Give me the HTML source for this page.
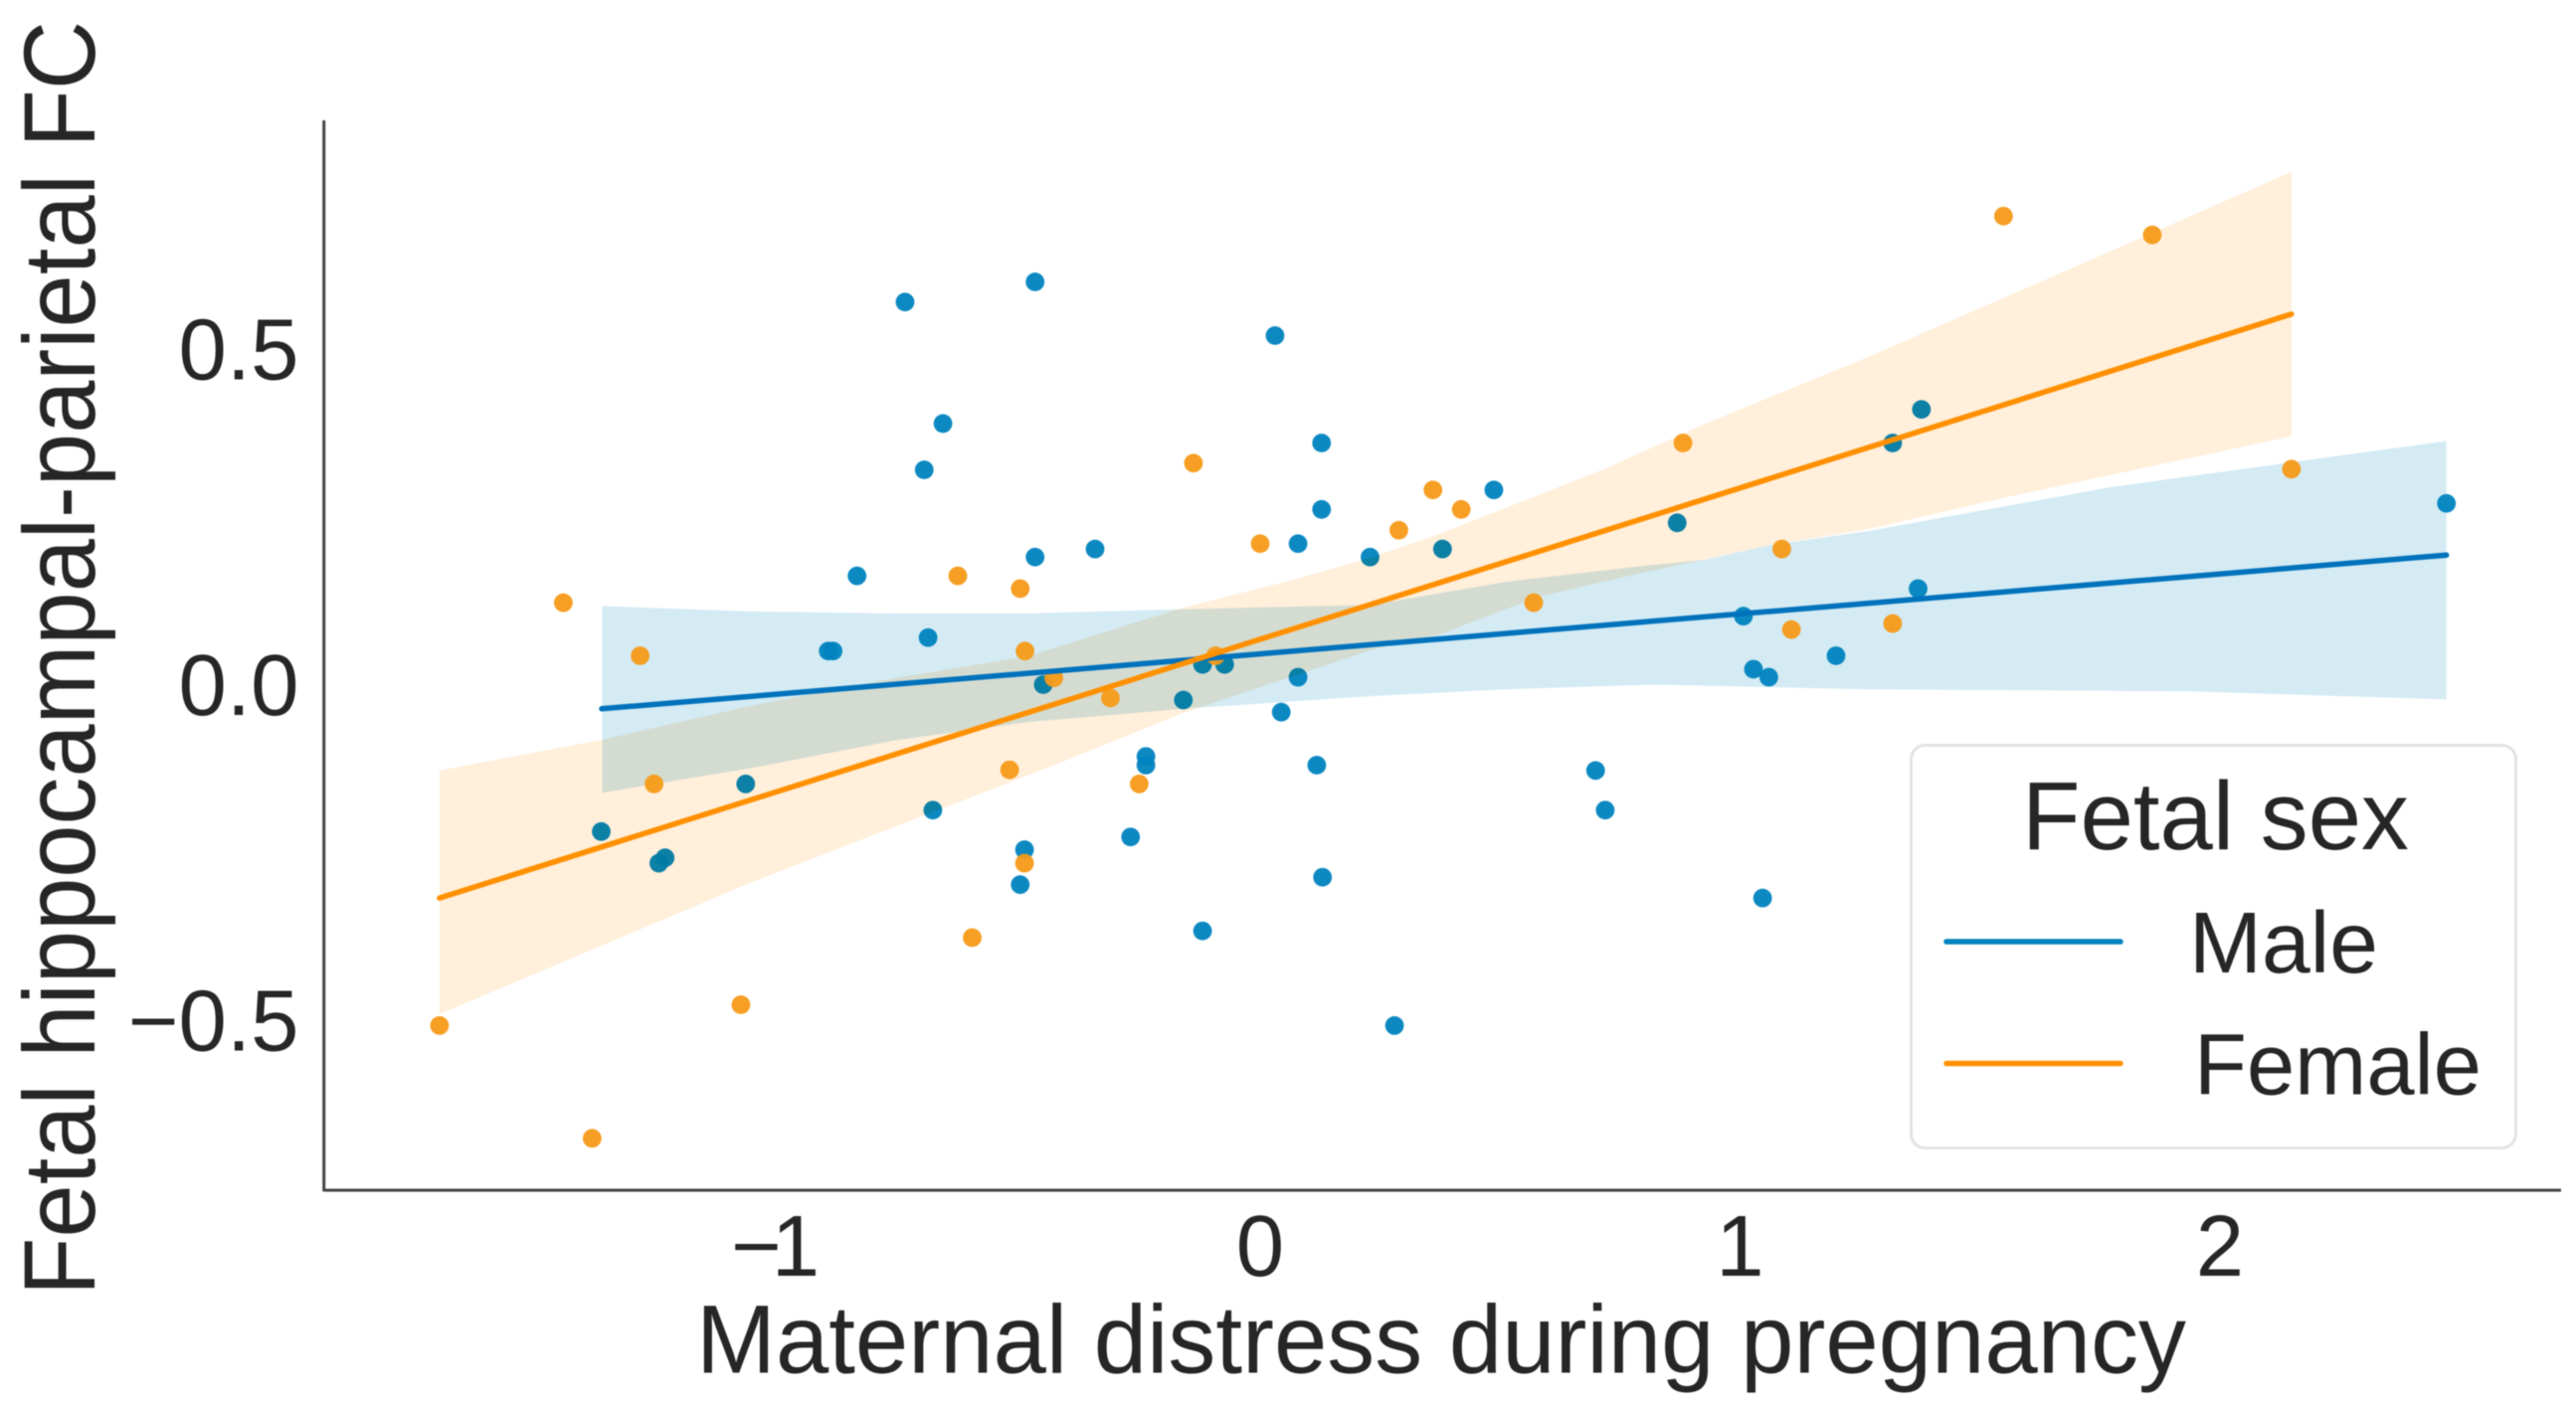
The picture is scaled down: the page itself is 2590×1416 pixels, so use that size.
<!DOCTYPE html>
<html lang="en">
<head>
<meta charset="utf-8">
<title>Fetal hippocampal-parietal FC vs maternal distress</title>
<style>
  html, body { margin: 0; padding: 0; background: #fff; }
  svg { display: block; filter: blur(0.6px); }
  text { font-family: "Liberation Sans", Arial, sans-serif; fill: #262626; }
</style>
</head>
<body>
<svg id="chart" xmlns="http://www.w3.org/2000/svg" width="2590" height="1416" viewBox="0 0 2590 1416">
  <rect x="0" y="0" width="2590" height="1416" fill="#ffffff"/>
  <g id="marks"></g>
  <line x1="325.7" y1="121" x2="325.7" y2="1198" stroke="#444444" stroke-width="3"/>
  <line x1="325" y1="1197" x2="2575" y2="1197" stroke="#444444" stroke-width="3"/>
  <g id="ticks"></g>
  <text x="700" y="1380.5" font-size="97" textLength="1498" lengthAdjust="spacingAndGlyphs">Maternal distress during pregnancy</text>
  <text transform="translate(95,1303) rotate(-90)" x="0" y="0" font-size="102" textLength="1282" lengthAdjust="spacingAndGlyphs">Fetal hippocampal-parietal FC</text>
  <g>
    <rect x="1921.5" y="749.5" width="608" height="405" rx="14" ry="14" fill="#ffffff" fill-opacity="0.9" stroke="#e3e3e3" stroke-width="3"/>
    <text x="2033" y="854" font-size="97" textLength="389" lengthAdjust="spacingAndGlyphs">Fetal sex</text>
    <line x1="1957" y1="947" x2="2132" y2="947" stroke="#0083BF" stroke-width="5.5" stroke-linecap="round"/>
    <text x="2201" y="978" font-size="87" textLength="190" lengthAdjust="spacingAndGlyphs">Male</text>
    <line x1="1957" y1="1069.5" x2="2132" y2="1069.5" stroke="#FF9000" stroke-width="5.5" stroke-linecap="round"/>
    <text x="2206" y="1100.5" font-size="87" textLength="289" lengthAdjust="spacingAndGlyphs">Female</text>
  </g>
</svg>
<script>
// ---- Data ----
const xTickValues = [-1, 0, 1, 2];
const xTickLabels = ["\u22121", "0", "1", "2"];
const yTickValues = [0.5, 0, -0.5];
const yTickLabels = ["0.5", "0.0", "\u22120.5"];

const maleX = [-0.469,-0.74,0.031,-0.661,-0.70,-0.344,-0.469,-0.84,-0.692,-0.90,-0.89,-0.452,-0.12,-0.074,-0.16,0.128,0.128,0.487,0.079,0.229,0.38,0.869,1.378,1.318,2.472,1.371,1.007,1.2,1.028,1.06,0.079,0.044,-1.072,-0.682,-1.373,-0.238,-0.238,-0.27,-0.491,-1.24,-1.253,-0.50,-0.12,0.118,0.699,0.719,0.13,1.047,0.28];
const maleY = [0.60,0.57,0.52,0.389,0.32,0.202,0.19,0.162,0.07,0.05,0.05,0.0,0.03,0.03,-0.023,0.36,0.261,0.29,0.21,0.19,0.202,0.241,0.41,0.36,0.27,0.143,0.102,0.043,0.023,0.011,0.011,-0.041,-0.148,-0.187,-0.219,-0.107,-0.12,-0.227,-0.246,-0.258,-0.266,-0.298,-0.367,-0.12,-0.128,-0.187,-0.287,-0.318,-0.508];

const femaleX = [1.549,1.859,2.149,0.881,0.36,0.419,0.289,1.087,0.57,1.107,1.318,-1.452,-1.292,-0.63,-0.50,-0.49,-0.139,0.0,-0.43,-0.312,-0.093,-0.522,-1.263,-0.252,-0.491,-0.60,-1.082,-1.71,-1.392];
const femaleY = [0.698,0.67,0.321,0.36,0.29,0.261,0.23,0.202,0.122,0.082,0.091,0.122,0.043,0.162,0.143,0.05,0.33,0.21,0.01,-0.02,0.043,-0.127,-0.148,-0.148,-0.266,-0.377,-0.477,-0.508,-0.676];

const maleLineX = [-1.372, 2.472];
const maleLineY = [-0.036, 0.193];
const femaleLineX = [-1.71, 2.149];
const femaleLineY = [-0.318, 0.552];

const maleUpperX = [-1.371,-1.065,-0.76,-0.485,-0.173,0.234,0.51,0.787,0.925,1.063,1.27,1.77,2.472];
const maleUpperY = [0.117,0.109,0.106,0.106,0.112,0.119,0.153,0.176,0.186,0.208,0.229,0.294,0.363];
const maleLowerX = [-1.371,-1.065,-0.76,-0.485,-0.16,0.234,0.51,0.82,1.27,1.94,2.472];
const maleLowerY = [-0.161,-0.125,-0.083,-0.056,-0.036,-0.017,-0.007,0.0,-0.007,-0.01,-0.022];

const femaleUpperX = [-1.71,-1.371,-1.065,-0.76,-0.485,-0.173,0.068,0.234,0.372,0.717,0.925,1.27,1.77,2.149];
const femaleUpperY = [-0.128,-0.082,-0.032,0.01,0.042,0.112,0.156,0.19,0.224,0.321,0.388,0.489,0.645,0.764];
const femaleLowerX = [-1.71,-1.065,-0.719,-0.429,-0.16,0.234,0.372,0.58,0.787,1.063,1.27,1.547,2.149];
const femaleLowerY = [-0.491,-0.296,-0.2,-0.12,-0.042,0.052,0.074,0.131,0.165,0.208,0.232,0.278,0.37];

// ---- Axis functions ----
function sx(v) { return 1267 + 482.5 * v; }
function sy(v) { return 688.5 - 675 * v; }

const NS = "http://www.w3.org/2000/svg";
const marks = document.getElementById("marks");
const ticks = document.getElementById("ticks");

function bandPath(ux, uy, lx, ly) {
  const pts = [];
  ux.forEach(function (x, i) { pts.push(sx(x).toFixed(1) + "," + sy(uy[i]).toFixed(1)); });
  for (let i = lx.length - 1; i >= 0; i--) { pts.push(sx(lx[i]).toFixed(1) + "," + sy(ly[i]).toFixed(1)); }
  return "M" + pts.join("L") + "Z";
}

function drawDots(xs, ys, color, name) {
  xs.forEach(function (x, i) {
    const c = document.createElementNS(NS, "circle");
    c.setAttribute("cx", sx(x));
    c.setAttribute("cy", sy(ys[i]));
    c.setAttribute("r", 9.4);
    c.setAttribute("fill", color);
    c.setAttribute("fill-opacity", 0.95);
    
    
    marks.appendChild(c);
  });
}

function drawBand(ux, uy, lx, ly, color, opacity, blend, name) {
  const p = document.createElementNS(NS, "path");
  p.setAttribute("d", bandPath(ux, uy, lx, ly));
  p.setAttribute("fill", color);
  p.setAttribute("fill-opacity", opacity);
  p.style.mixBlendMode = blend;
  
  
  marks.appendChild(p);
}

function drawLine(xs, ys, color, name) {
  const l = document.createElementNS(NS, "line");
  l.setAttribute("x1", sx(xs[0]));
  l.setAttribute("y1", sy(ys[0]));
  l.setAttribute("x2", sx(xs[1]));
  l.setAttribute("y2", sy(ys[1]));
  l.setAttribute("stroke", color);
  l.setAttribute("stroke-width", 5.5);
  l.setAttribute("stroke-linecap", "round");
  
  
  marks.appendChild(l);
}

drawDots(maleX, maleY, "#0083BF", "male-point");
drawBand(maleUpperX, maleUpperY, maleLowerX, maleLowerY, "#0087BD", 0.17, "normal", "male-confidence-band");
drawBand(femaleUpperX, femaleUpperY, femaleLowerX, femaleLowerY, "#FFEFDB", 1, "multiply", "female-confidence-band");
drawDots(femaleX, femaleY, "#F59A18", "female-point");
drawLine(maleLineX, maleLineY, "#0072BC", "male-regression-line");
drawLine(femaleLineX, femaleLineY, "#FF9000", "female-regression-line");

xTickValues.forEach(function (v, i) {
  const t = document.createElementNS(NS, "text");
  t.textContent = xTickLabels[i];
  const negative = v < 0;
  t.setAttribute("x", negative ? sx(v) - 49.5 : sx(v));
  t.setAttribute("y", 1283);
  t.setAttribute("font-size", 87);
  t.setAttribute("text-anchor", negative ? "start" : "middle");
  if (negative) { t.setAttribute("letter-spacing", "-10"); }
  
  
  ticks.appendChild(t);
});

yTickValues.forEach(function (v, i) {
  const t = document.createElementNS(NS, "text");
  t.textContent = yTickLabels[i];
  t.setAttribute("x", 300.5);
  t.setAttribute("y", sy(v) + 30.5);
  t.setAttribute("font-size", 87);
  t.setAttribute("text-anchor", "end");
  
  
  ticks.appendChild(t);
});
</script>
</body>
</html>
